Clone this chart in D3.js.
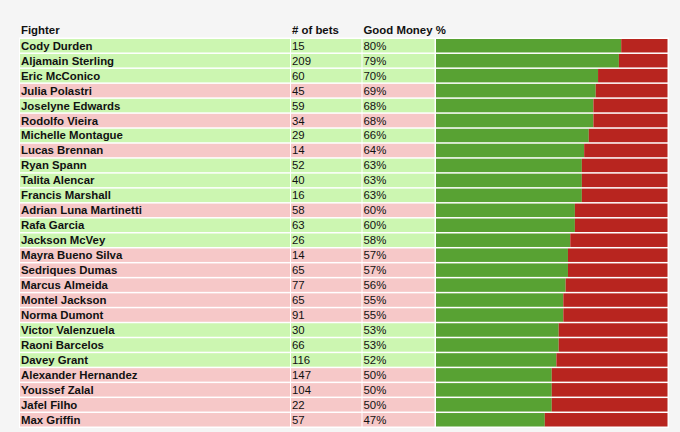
<!DOCTYPE html>
<html>
<head>
<meta charset="utf-8">
<script src="https://cdn.jsdelivr.net/npm/d3@7"></script>
<style>
  body { margin: 0; background: #f5f5f5; }
  svg { display: block; font-family: "Liberation Sans", Arial, sans-serif; }
</style>
</head>
<body>
<svg id="chart"></svg>
<script>
var width = 680, height = 432;

var fighters = ["Cody Durden", "Aljamain Sterling", "Eric McConico", "Julia Polastri", "Joselyne Edwards",
  "Rodolfo Vieira", "Michelle Montague", "Lucas Brennan", "Ryan Spann", "Talita Alencar", "Francis Marshall",
  "Adrian Luna Martinetti", "Rafa Garcia", "Jackson McVey", "Mayra Bueno Silva", "Sedriques Dumas",
  "Marcus Almeida", "Montel Jackson", "Norma Dumont", "Victor Valenzuela", "Raoni Barcelos", "Davey Grant",
  "Alexander Hernandez", "Youssef Zalal", "Jafel Filho", "Max Griffin"];
var bets = [15, 209, 60, 45, 59, 34, 29, 14, 52, 40, 16, 58, 63, 26, 14, 65, 77, 65, 91, 30, 66, 116, 147, 104, 22, 57];
var goodMoney = [80, 79, 70, 69, 68, 68, 66, 64, 63, 63, 63, 60, 60, 58, 57, 57, 56, 55, 55, 53, 53, 52, 50, 50, 50, 47];
// W = row shaded green, L = row shaded pink
var result = ["W", "W", "W", "L", "W", "L", "W", "L", "W", "W", "W", "L", "W", "W", "L", "L", "L", "L", "L", "W", "W", "W", "L", "L", "L", "L"];
var headers = ["Fighter", "# of bets", "Good Money %"];

var rows = fighters.map(function(f, i){
  return {name: f, bets: bets[i], pct: goodMoney[i], res: result[i]};
});

var svg = d3.select("#chart").attr("width", width).attr("height", height);

var y = d3.scaleBand()
  .domain(fighters)
  .range([39, 426.5])
  .paddingInner(0.1);

// column boundaries
var cols = [
  {x0: 20, x1: 290},
  {x0: 291, x1: 361.5},
  {x0: 362.5, x1: 434.5}
];
var xBar = d3.scaleLinear().domain([0, 100]).range([436, 667.5]);

var rowFill = {W: "#ccf6b1", L: "#f6c8c8"};

// white table background behind the rows
svg.append("rect")
  .attr("x", 19).attr("y", 37.5)
  .attr("width", 650).attr("height", 390.5)
  .attr("fill", "#ffffff");

// header
svg.selectAll(".hdr")
  .data(headers)
  .enter().append("text")
  .attr("class", "hdr")
  .attr("x", function(d, i){ return cols[i].x0 + 1; })
  .attr("y", 33.5)
  .attr("font-size", "11.4px")
  .attr("font-weight", "bold")
  .attr("fill", "#111")
  .text(function(d){ return d; });

var row = svg.selectAll(".row")
  .data(rows)
  .enter().append("g")
  .attr("class", "row")
  .attr("transform", function(d){ return "translate(0," + y(d.name) + ")"; });

cols.forEach(function(c){
  row.append("rect")
    .attr("x", c.x0)
    .attr("width", c.x1 - c.x0)
    .attr("height", y.bandwidth())
    .attr("fill", function(d){ return rowFill[d.res]; });
});

var ty = y.bandwidth() / 2 + 4;

row.append("text")
  .attr("x", cols[0].x0 + 1)
  .attr("y", ty)
  .attr("font-size", "11.4px")
  .attr("font-weight", "bold")
  .attr("fill", "#111")
  .text(function(d){ return d.name; });

row.append("text")
  .attr("x", cols[1].x0 + 1)
  .attr("y", ty)
  .attr("font-size", "11.4px")
  .attr("fill", "#111")
  .text(function(d){ return d.bets; });

row.append("text")
  .attr("x", cols[2].x0 + 1)
  .attr("y", ty)
  .attr("font-size", "11.4px")
  .attr("fill", "#111")
  .text(function(d){ return d.pct + "%"; });

// stacked bar: good money vs the rest
row.append("rect")
  .attr("x", xBar(0))
  .attr("width", function(d){ return xBar(d.pct) - xBar(0); })
  .attr("height", y.bandwidth())
  .attr("fill", "#58a233");

row.append("rect")
  .attr("x", function(d){ return xBar(d.pct); })
  .attr("width", function(d){ return xBar(100) - xBar(d.pct); })
  .attr("height", y.bandwidth())
  .attr("fill", "#b8251f");
</script>
</body>
</html>
